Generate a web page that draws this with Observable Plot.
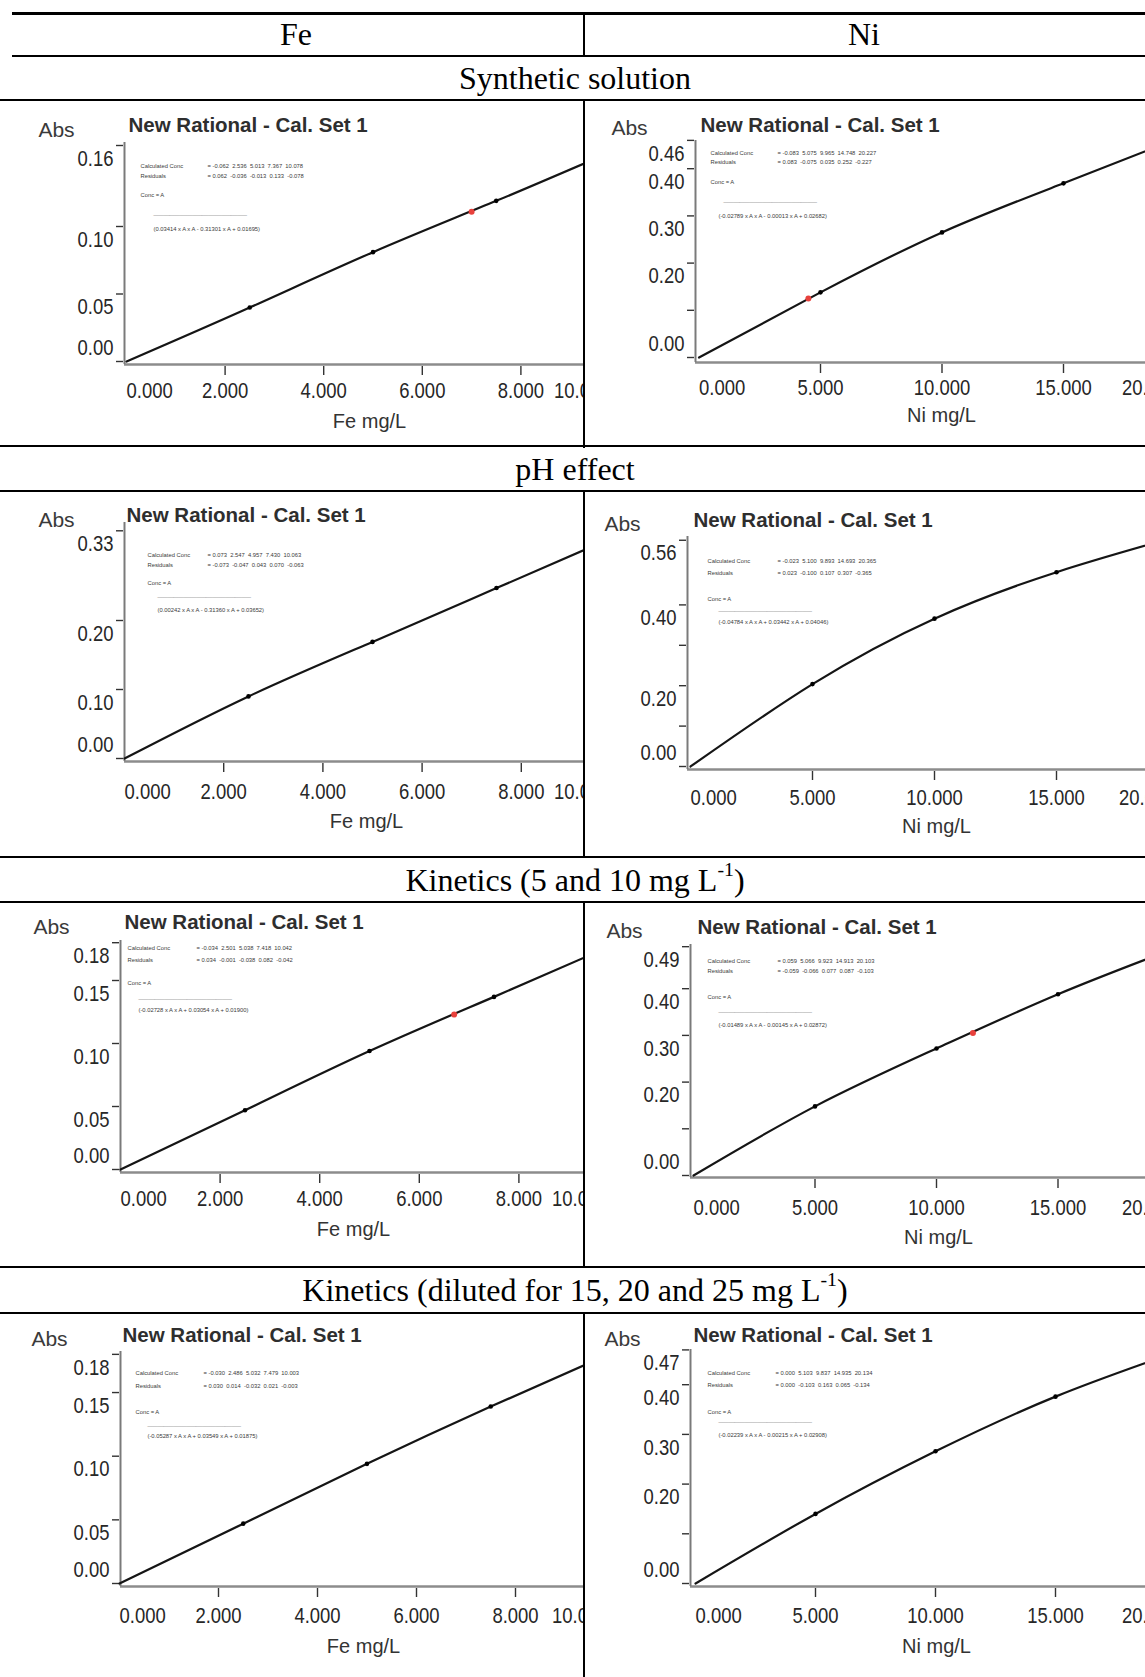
<!DOCTYPE html>
<html>
<head>
<meta charset="utf-8">
<script src="https://cdn.jsdelivr.net/npm/d3@7"></script>
<script src="https://cdn.jsdelivr.net/npm/@observablehq/plot@0.6"></script>
<style>
html,body{margin:0;padding:0;background:#fff;}
#page{position:relative;width:1145px;height:1677px;overflow:hidden;background:#fff;}
.hl{position:absolute;background:#000;}
.vl{position:absolute;background:#000;width:2px;}
.cap{position:absolute;transform:translate(-50%,-50%);white-space:nowrap;font-family:"Liberation Serif","Times New Roman",serif;font-size:32px;line-height:1;color:#000;}
.cap sup{font-size:0.62em;vertical-align:0.75em;line-height:0;}
.cell{position:absolute;overflow:hidden;}
.cell svg{position:absolute;left:0;top:0;max-width:none !important;}
</style>
</head>
<body>
<div id="page"></div>
<script>
// ---------------- DATA ----------------
const columnHeaders = ["Fe", "Ni"];
const sectionTitles = [
  ["Synthetic solution", "", ""],
  ["pH effect", "", ""],
  ["Kinetics (5 and 10 mg L", "-1", ")"],
  ["Kinetics (diluted for 15, 20 and 25 mg L", "-1", ")"]
];
const panelTitle = "New Rational - Cal. Set 1";
const yAxisName = "Abs";
const feAxisName = "Fe mg/L";
const niAxisName = "Ni mg/L";

const feConc = [0, 2.5, 5, 7.5, 10];
const niConc = [0, 5, 10, 15, 20];

const feSynthAbs = [0, 0.040, 0.081, 0.119, 0.158];
const niSynthAbs = [0, 0.138, 0.265, 0.369, 0.470];
const fePhAbs    = [0, 0.090, 0.169, 0.247, 0.325];
const niPhAbs    = [0, 0.204, 0.366, 0.481, 0.570];
const feKin1Abs  = [0, 0.047, 0.094, 0.137, 0.180];
const niKin1Abs  = [0, 0.148, 0.272, 0.388, 0.490];
const feKin2Abs  = [0, 0.047, 0.094, 0.139, 0.182];
const niKin2Abs  = [0, 0.140, 0.266, 0.376, 0.465];

// red highlighted readings on the curves
const feSynthSampleConc = [7.0];  const feSynthSampleAbs = [0.111];
const niSynthSampleConc = [4.5];  const niSynthSampleAbs = [0.125];
const feKin1SampleConc  = [6.7];  const feKin1SampleAbs  = [0.123];
const niKin1SampleConc  = [11.5]; const niKin1SampleAbs  = [0.305];

const feXTickValues = [0, 2, 4, 6, 8, 10];
const feXTickLabels = ["0.000", "2.000", "4.000", "6.000", "8.000", "10.000"];
const niXTickValues = [0, 5, 10, 15, 20];
const niXTickLabels = ["0.000", "5.000", "10.000", "15.000", "20.000"];

const feSynthYTicks = [0, 0.05, 0.10, 0.16];
const feSynthYLabels = ["0.00", "0.05", "0.10", "0.16"];
const niSynthYTicks = [0, 0.10, 0.20, 0.30, 0.40, 0.46];
const niSynthYLabels = ["0.00", "", "0.20", "0.30", "0.40", "0.46"];
const fePhYTicks = [0, 0.10, 0.20, 0.33];
const fePhYLabels = ["0.00", "0.10", "0.20", "0.33"];
const niPhYTicks = [0, 0.10, 0.20, 0.30, 0.40, 0.56];
const niPhYLabels = ["0.00", "", "0.20", "", "0.40", "0.56"];
const feKin1YTicks = [0, 0.05, 0.10, 0.15, 0.18];
const feKin1YLabels = ["0.00", "0.05", "0.10", "0.15", "0.18"];
const niKin1YTicks = [0, 0.10, 0.20, 0.30, 0.40, 0.49];
const niKin1YLabels = ["0.00", "", "0.20", "0.30", "0.40", "0.49"];
const feKin2YTicks = [0, 0.05, 0.10, 0.15, 0.18];
const feKin2YLabels = ["0.00", "0.05", "0.10", "0.15", "0.18"];
const niKin2YTicks = [0, 0.10, 0.20, 0.30, 0.40, 0.47];
const niKin2YLabels = ["0.00", "", "0.20", "0.30", "0.40", "0.47"];

const calcLabel = "Calculated Conc";
const residLabel = "Residuals";
const concLabel = "Conc = A";
const feSynthCalc = "= -0.062  2.536  5.013  7.367  10.078";
const feSynthResid = "= 0.062  -0.036  -0.013  0.133  -0.078";
const feSynthEq = "(0.03414 x A x A - 0.31301 x A + 0.01695)";
const niSynthCalc = "= -0.083  5.075  9.965  14.748  20.227";
const niSynthResid = "= 0.083  -0.075  0.035  0.252  -0.227";
const niSynthEq = "(-0.02789 x A x A - 0.00013 x A + 0.02682)";
const fePhCalc = "= 0.073  2.547  4.957  7.430  10.063";
const fePhResid = "= -0.073  -0.047  0.043  0.070  -0.063";
const fePhEq = "(0.00242 x A x A - 0.31360 x A + 0.03652)";
const niPhCalc = "= -0.023  5.100  9.893  14.693  20.365";
const niPhResid = "= 0.023  -0.100  0.107  0.307  -0.365";
const niPhEq = "(-0.04784 x A x A + 0.03442 x A + 0.04046)";
const feKin1Calc = "= -0.034  2.501  5.038  7.418  10.042";
const feKin1Resid = "= 0.034  -0.001  -0.038  0.082  -0.042";
const feKin1Eq = "(-0.02728 x A x A + 0.03054 x A + 0.01900)";
const niKin1Calc = "= 0.059  5.066  9.923  14.913  20.103";
const niKin1Resid = "= -0.059  -0.066  0.077  0.087  -0.103";
const niKin1Eq = "(-0.01489 x A x A - 0.00145 x A + 0.02872)";
const feKin2Calc = "= -0.030  2.486  5.032  7.479  10.003";
const feKin2Resid = "= 0.030  0.014  -0.032  0.021  -0.003";
const feKin2Eq = "(-0.05287 x A x A + 0.03549 x A + 0.01875)";
const niKin2Calc = "= 0.000  5.103  9.837  14.935  20.134";
const niKin2Resid = "= 0.000  -0.103  0.163  0.065  -0.134";
const niKin2Eq = "(-0.02239 x A x A - 0.00215 x A + 0.02908)";

// ---------------- LAYOUT (pixels) ----------------
const geo = {
  feSynth: {cell:[0,101,583,344], axX:124, axY:364, y0:361, ky:1350, yTop:142, x0:126, kx:49.3, plotRight:610,
    absLbl:[56,130], title:[128,125], xTitle:[369,421], xLblDy:26,
    calc:[140,166], eqCol:207, res:176, concA:195, line:[153,213], eq:[153,229]},
  niSynth: {cell:[585,101,560,344], axX:695, axY:362, y0:357, ky:472, yTop:140, x0:698.5, kx:24.3, plotRight:1178,
    absLbl:[629,128], title:[700,125], xTitle:[941,415], xLblDy:25,
    calc:[710,153], eqCol:777, res:162, concA:182, line:[723,200], eq:[718,216]},
  fePh: {cell:[0,492,583,364], axX:124, axY:761, y0:758, ky:690, yTop:522, x0:124, kx:49.6, plotRight:610,
    absLbl:[56,520], title:[126,515], xTitle:[366,821], xLblDy:30,
    calc:[147,555], eqCol:207, res:565, concA:583, line:[157,595], eq:[157,610]},
  niPh: {cell:[585,492,560,364], axX:687, axY:769, y0:766, ky:404, yTop:536, x0:690, kx:24.4, plotRight:1175,
    absLbl:[622,524], title:[693,520], xTitle:[936,826], xLblDy:28,
    calc:[707,561], eqCol:777, res:573, concA:599, line:[718,609], eq:[718,622]},
  feKin1: {cell:[0,903,583,363], axX:120, axY:1172, y0:1169, ky:1260, yTop:940, x0:120, kx:49.8, plotRight:608,
    absLbl:[51,927], title:[124,922], xTitle:[353,1229], xLblDy:26,
    calc:[127,948], eqCol:196, res:960, concA:983, line:[138,997], eq:[138,1010]},
  niKin1: {cell:[585,903,560,363], axX:690, axY:1177, y0:1175, ky:467, yTop:944, x0:693, kx:24.3, plotRight:1178,
    absLbl:[624,931], title:[697,927], xTitle:[938,1237], xLblDy:30,
    calc:[707,961], eqCol:777, res:971, concA:997, line:[718,1010], eq:[718,1025]},
  feKin2: {cell:[0,1314,583,363], axX:120, axY:1586, y0:1583, ky:1273, yTop:1351, x0:119, kx:49.5, plotRight:608,
    absLbl:[49,1339], title:[122,1335], xTitle:[363,1646], xLblDy:29,
    calc:[135,1373], eqCol:203, res:1386, concA:1412, line:[147,1424], eq:[147,1436]},
  niKin2: {cell:[585,1314,560,363], axX:690, axY:1586, y0:1583, ky:497, yTop:1349, x0:695, kx:24, plotRight:1178,
    absLbl:[622,1339], title:[693,1335], xTitle:[936,1646], xLblDy:29,
    calc:[707,1373], eqCol:775, res:1385, concA:1412, line:[718,1420], eq:[718,1435]}
};

const panels = [
  {g: geo.feSynth, conc: feConc, abs: feSynthAbs, sc: feSynthSampleConc, sa: feSynthSampleAbs, yt: feSynthYTicks, yl: feSynthYLabels, xv: feXTickValues, xl: feXTickLabels, xName: feAxisName, calc: feSynthCalc, resid: feSynthResid, eq: feSynthEq},
  {g: geo.niSynth, conc: niConc, abs: niSynthAbs, sc: niSynthSampleConc, sa: niSynthSampleAbs, yt: niSynthYTicks, yl: niSynthYLabels, xv: niXTickValues, xl: niXTickLabels, xName: niAxisName, calc: niSynthCalc, resid: niSynthResid, eq: niSynthEq},
  {g: geo.fePh, conc: feConc, abs: fePhAbs, sc: [], sa: [], yt: fePhYTicks, yl: fePhYLabels, xv: feXTickValues, xl: feXTickLabels, xName: feAxisName, calc: fePhCalc, resid: fePhResid, eq: fePhEq},
  {g: geo.niPh, conc: niConc, abs: niPhAbs, sc: [], sa: [], yt: niPhYTicks, yl: niPhYLabels, xv: niXTickValues, xl: niXTickLabels, xName: niAxisName, calc: niPhCalc, resid: niPhResid, eq: niPhEq},
  {g: geo.feKin1, conc: feConc, abs: feKin1Abs, sc: feKin1SampleConc, sa: feKin1SampleAbs, yt: feKin1YTicks, yl: feKin1YLabels, xv: feXTickValues, xl: feXTickLabels, xName: feAxisName, calc: feKin1Calc, resid: feKin1Resid, eq: feKin1Eq},
  {g: geo.niKin1, conc: niConc, abs: niKin1Abs, sc: niKin1SampleConc, sa: niKin1SampleAbs, yt: niKin1YTicks, yl: niKin1YLabels, xv: niXTickValues, xl: niXTickLabels, xName: niAxisName, calc: niKin1Calc, resid: niKin1Resid, eq: niKin1Eq},
  {g: geo.feKin2, conc: feConc, abs: feKin2Abs, sc: [], sa: [], yt: feKin2YTicks, yl: feKin2YLabels, xv: feXTickValues, xl: feXTickLabels, xName: feAxisName, calc: feKin2Calc, resid: feKin2Resid, eq: feKin2Eq},
  {g: geo.niKin2, conc: niConc, abs: niKin2Abs, sc: [], sa: [], yt: niKin2YTicks, yl: niKin2YLabels, xv: niXTickValues, xl: niXTickLabels, xName: niAxisName, calc: niKin2Calc, resid: niKin2Resid, eq: niKin2Eq}
];

// ---------------- TABLE FRAME ----------------
const page = document.getElementById("page");
function box(cls, x, y, w, h) {
  const d = document.createElement("div");
  d.className = cls;
  Object.assign(d.style, {left: x + "px", top: y + "px", width: w + "px", height: h + "px"});
  page.appendChild(d);
  return d;
}
[[12, 12, 3], [12, 55, 2], [0, 99, 2], [0, 445, 2], [0, 490, 2], [0, 856, 2], [0, 901, 2], [0, 1266, 2], [0, 1312, 2]]
  .forEach(([x, y, h]) => box("hl", x, y, 1145 - x, h));
[[12, 45], [99, 349], [490, 368], [901, 367], [1312, 365]]
  .forEach(([y, h]) => box("vl", 583, y, 2, h));

function caption(parts, x, y) {
  const d = document.createElement("div");
  d.className = "cap";
  d.style.left = x + "px"; d.style.top = y + "px";
  d.appendChild(document.createTextNode(parts[0]));
  if (parts[1]) { const s = document.createElement("sup"); s.textContent = parts[1]; d.appendChild(s); }
  if (parts[2]) d.appendChild(document.createTextNode(parts[2]));
  page.appendChild(d);
}
caption([columnHeaders[0]], 296, 34);
caption([columnHeaders[1]], 864, 34);
const capY = [78, 469, 880, 1290];
sectionTitles.forEach((t, i) => caption(t, 575, capY[i]));

// ---------------- PANELS ----------------
const TICK_FILL = "#272727";
function buildPanel(p) {
  const g = p.g;
  const [cx, cy, cw, ch] = g.cell;
  const cell = box("cell", cx, cy, cw, ch);
  const mR = 60;
  const width = g.plotRight - cx + mR;
  const xDomain = [(g.axX - g.x0) / g.kx, (g.plotRight - g.x0) / g.kx];
  const yDomain = [(g.y0 - g.axY) / g.ky, (g.y0 - g.yTop) / g.ky];
  const frameW = g.plotRight - g.axX, frameH = g.axY - g.yTop;
  const at = (X, Y) => ({frameAnchor: "top-left", lineAnchor: "middle", dx: X - g.axX, dy: Y - g.yTop});
  const std = p.conc.map((c, i) => ({c, a: p.abs[i]}));
  const samples = p.sc.map((c, i) => ({c, a: p.sa[i]}));
  const yl = p.yt.map((v, i) => ({v, t: p.yl[i]})).filter(d => d.t);
  const xl = p.xv.map((v, i) => ({v, t: p.xl[i]}));
  const tickFont = {fontSize: 22.5, fill: TICK_FILL, lineAnchor: "middle"};
  const small = {fontSize: 5.8, fill: "#3a3a3a", textAnchor: "start", text: d => d};
  const svg = Plot.plot({
    width, height: ch,
    marginLeft: g.axX - cx, marginTop: g.yTop - cy, marginBottom: cy + ch - g.axY, marginRight: mR,
    x: {type: "linear", domain: xDomain, axis: null},
    y: {type: "linear", domain: yDomain, axis: null},
    style: {fontFamily: "'Liberation Sans', Arial, sans-serif", background: "transparent", maxWidth: "none", overflow: "visible"},
    marks: [
      Plot.ruleY([yDomain[0]], {stroke: "#8c8c8c", strokeWidth: 2.5}),
      Plot.ruleX([xDomain[0]], {stroke: "#7a7a7a", strokeWidth: 2}),
      Plot.tickY(p.yt, {y: d => d, insetRight: frameW - 7, dx: -8, stroke: "#333", strokeWidth: 1.4}),
      Plot.tickX(p.xv.slice(1), {x: d => d, insetTop: frameH - 9, dy: 11, stroke: "#333", strokeWidth: 1.4}),
      Plot.text(yl.filter(d => d.v !== 0), {y: "v", text: "t", frameAnchor: "left", textAnchor: "end", dx: -11, dy: 13, ...tickFont}),
      Plot.text(yl.filter(d => d.v === 0), {y: "v", text: "t", frameAnchor: "left", textAnchor: "end", dx: -11, dy: -14, ...tickFont}),
      Plot.text(xl.slice(0, 1), {x: "v", text: "t", frameAnchor: "bottom", textAnchor: "start", dy: g.xLblDy, ...tickFont}),
      Plot.text(xl.slice(1, -1), {x: "v", text: "t", frameAnchor: "bottom", textAnchor: "middle", dy: g.xLblDy, ...tickFont}),
      Plot.text(xl.slice(-1), {x: () => xDomain[1], text: "t", frameAnchor: "bottom", textAnchor: "end", dy: g.xLblDy, ...tickFont}),
      Plot.line(std, {x: "c", y: "a", curve: "natural", stroke: "#151515", strokeWidth: 2.2}),
      Plot.dot(std.slice(1), {x: "c", y: "a", r: 2.3, fill: "#000"}),
      Plot.dot(samples, {x: "c", y: "a", r: 3, fill: "#e8413c"}),
      Plot.text([yAxisName], {...at(...g.absLbl), text: d => d, textAnchor: "middle", fontSize: 21, fill: "#3a3a3a"}),
      Plot.text([panelTitle], {...at(...g.title), text: d => d, textAnchor: "start", fontSize: 20.5, fontWeight: "bold", fill: "#2e2e2e"}),
      Plot.text([p.xName], {...at(...g.xTitle), text: d => d, textAnchor: "middle", fontSize: 20, fill: "#333"}),
      Plot.text([calcLabel], {...at(g.calc[0], g.calc[1]), ...small}),
      Plot.text([p.calc], {...at(g.eqCol, g.calc[1]), ...small}),
      Plot.text([residLabel], {...at(g.calc[0], g.res), ...small}),
      Plot.text([p.resid], {...at(g.eqCol, g.res), ...small}),
      Plot.text([concLabel], {...at(g.calc[0], g.concA), ...small}),
      Plot.text(["_".repeat(29)], {...at(g.line[0], g.line[1]), ...small, fill: "#777"}),
      Plot.text([p.eq], {...at(g.eq[0], g.eq[1]), ...small})
    ]
  });
  svg.style.position = "absolute";
  svg.style.left = "0px";
  svg.style.top = "0px";
  svg.querySelectorAll("text").forEach(t => t.setAttribute("xml:space", "preserve"));
  cell.appendChild(svg);
  // condense the tick labels horizontally, like the instrument's narrow font
  svg.querySelectorAll(`g[fill="${TICK_FILL}"] text`).forEach(t => {
    const len = t.getComputedTextLength();
    if (len > 0) {
      t.setAttribute("textLength", (len * 0.82).toFixed(1));
      t.setAttribute("lengthAdjust", "spacingAndGlyphs");
    }
  });
}
panels.forEach(buildPanel);
</script>
</body>
</html>
